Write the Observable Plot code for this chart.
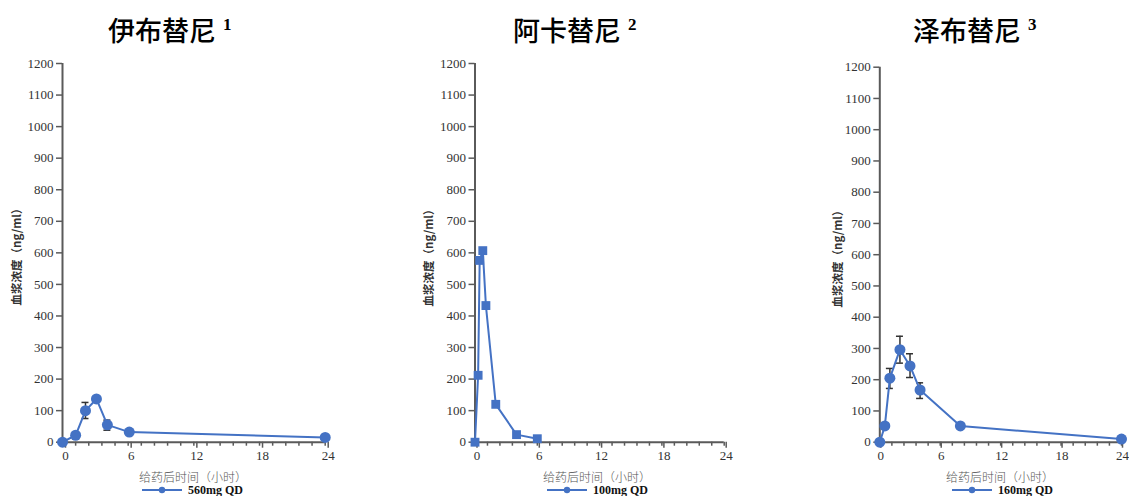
<!DOCTYPE html>
<html>
<head>
<meta charset="utf-8">
<script src="https://cdn.jsdelivr.net/npm/d3@7"></script>
<script src="https://cdn.jsdelivr.net/npm/@observablehq/plot@0.6"></script>
<style>
  html, body { margin: 0; padding: 0; background: #fff; }
  #root { position: relative; width: 1129px; height: 496px; overflow: hidden; background: #fff; }
  #root svg text { font-family: "Liberation Serif", serif; }
  .title { position: absolute; top: 14px; font-family: "Noto Sans CJK SC", sans-serif; font-weight: 500; font-size: 27px; line-height: 32px; color: #000; white-space: nowrap; }
  .title sup { font-family: "Liberation Serif", serif; font-weight: 700; font-size: 17px; vertical-align: 0; position: relative; top: -11px; margin-left: 7px; }
  .xlabel { position: absolute; top: 470px; transform: translateX(-50%); font-family: "Noto Sans CJK SC", sans-serif; font-weight: 300; font-size: 12px; line-height: 13px; color: #555; white-space: nowrap; }
  .ylabel { position: absolute; transform: translate(-50%, -50%) rotate(-90deg); font-family: "Noto Sans CJK SC", sans-serif; font-weight: 700; font-size: 11.5px; line-height: 13px; color: #333; white-space: nowrap; }
  .legend { position: absolute; top: 484px; height: 12px; display: flex; align-items: center; gap: 6px; font-family: "Liberation Serif", serif; font-weight: 700; font-size: 12px; line-height: 12px; color: #111; white-space: nowrap; }
  .plot { position: absolute; top: 0; }
</style>
</head>
<body>
<div id="root"></div>
<script>
// ---------- data ----------
const yTicks = [0, 100, 200, 300, 400, 500, 600, 700, 800, 900, 1000, 1100, 1200];
const xMajorTicks = [0, 6, 12, 18, 24];

const titles = ["伊布替尼", "阿卡替尼", "泽布替尼"];
const titleRefs = ["1", "2", "3"];
const doses = ["560mg QD", "100mg QD", "160mg QD"];
const xAxisLabel = "给药后时间（小时）";
const yAxisLabel = "血浆浓度（ng/ml）";

// Ibrutinib
const ibrTime = [0, 1.2, 2.1, 3.1, 4.1, 6.1, 24];
const ibrConc = [0, 22, 100, 137, 55, 32, 15];
const ibrErrTime = [2.1, 4.1];
const ibrErrLow = [75, 38];
const ibrErrHigh = [126, 70];

// Acalabrutinib
const acaTime = [0, 0.3, 0.45, 0.75, 1.05, 2, 4, 6];
const acaConc = [0, 212, 576, 607, 433, 120, 24, 11];
const acaErrTime = [];
const acaErrLow = [];
const acaErrHigh = [];

// Zanubrutinib
const zanTime = [0, 0.5, 1, 2, 3, 4, 8, 24];
const zanConc = [0, 52, 205, 296, 244, 167, 52, 10];
const zanErrTime = [1, 2, 3, 4];
const zanErrLow = [172, 253, 207, 140];
const zanErrHigh = [236, 339, 283, 190];

// ---------- styles / layout ----------
const blue = "#4472C4";
const axisColor = "#5a5a5a";
const tickFont = "Liberation Serif, serif";
const xMinorTicks = d3.range(0, 21).map(i => +(i * 1.2).toFixed(2));

const layout = [
  {left: 0,   width: 350, ml: 62,    mr: 25.3, mt: 63,   xdx: 3, titleLeft: 108, xLabel: 193,  yLabelX: 16,  yLabelY: 254, legendLeft: 142, symbol: "circle"},
  {left: 380, width: 360, ml: 94.5,  mr: 16.3, mt: 63,   xdx: 2, titleLeft: 513, xLabel: 597,  yLabelX: 428, yLabelY: 255, legendLeft: 547, symbol: "square"},
  {left: 760, width: 369, ml: 119.3, mr: 8,    mt: 66.7, xdx: 1, titleLeft: 913, xLabel: 1000, yLabelX: 837, yLabelY: 256, legendLeft: 952, symbol: "circle"}
];

const series = [
  {time: ibrTime, conc: ibrConc, errTime: ibrErrTime, errLow: ibrErrLow, errHigh: ibrErrHigh},
  {time: acaTime, conc: acaConc, errTime: acaErrTime, errLow: acaErrLow, errHigh: acaErrHigh},
  {time: zanTime, conc: zanConc, errTime: zanErrTime, errLow: zanErrLow, errHigh: zanErrHigh}
];

const root = document.getElementById("root");

series.forEach((s, k) => {
  const L = layout[k];
  const data = s.time.map((t, i) => ({t, c: s.conc[i]}));
  const errs = s.errTime.map((t, i) => ({t, lo: s.errLow[i], hi: s.errHigh[i]}));

  const chart = Plot.plot({
    width: L.width,
    height: 496,
    marginLeft: L.ml,
    marginRight: L.mr,
    marginTop: L.mt,
    marginBottom: 54.3,
    x: {domain: [0, 24]},
    y: {domain: [0, 1200]},
    style: {fontFamily: tickFont, fontSize: "13px", color: "#333", background: "transparent", overflow: "visible"},
    marks: [
      Plot.axisY({ticks: yTicks, tickSize: 6, tickPadding: 3, tickFormat: d => String(d), label: null, stroke: axisColor, strokeWidth: 1.5, fontFamily: tickFont, fontSize: 13}),
      Plot.axisX({ticks: xMinorTicks, tickSize: 4, tickFormat: () => "", label: null, stroke: axisColor, strokeWidth: 1.5}),
      Plot.axisX({ticks: xMajorTicks, tickSize: 6, tickPadding: 3, tickFormat: d => String(d), label: null, dx: L.xdx, stroke: axisColor, strokeWidth: 1.5, fontFamily: tickFont, fontSize: 13}),
      Plot.ruleX([0], {stroke: axisColor, strokeWidth: 2}),
      Plot.ruleY([0], {stroke: axisColor, strokeWidth: 2}),
      Plot.ruleX(errs, {x: "t", y1: "lo", y2: "hi", stroke: "#333", strokeWidth: 1.5}),
      Plot.ruleY(errs, {x1: "t", x2: "t", y: "hi", insetLeft: -3.5, insetRight: -3.5, stroke: "#333", strokeWidth: 1.5}),
      Plot.ruleY(errs, {x1: "t", x2: "t", y: "lo", insetLeft: -3.5, insetRight: -3.5, stroke: "#333", strokeWidth: 1.5}),
      Plot.line(data, {x: "t", y: "c", stroke: blue, strokeWidth: 2}),
      Plot.dot(data, {x: "t", y: "c", r: L.symbol === "square" ? 5 : 5.5, fill: blue, stroke: "none", symbol: L.symbol})
    ]
  });
  chart.classList.add("plot");
  chart.style.left = L.left + "px";
  root.appendChild(chart);

  const title = document.createElement("div");
  title.className = "title";
  title.style.left = L.titleLeft + "px";
  title.innerHTML = `${titles[k]}<sup>${titleRefs[k]}</sup>`;
  root.appendChild(title);

  const xl = document.createElement("div");
  xl.className = "xlabel";
  xl.style.left = L.xLabel + "px";
  xl.textContent = xAxisLabel;
  root.appendChild(xl);

  const yl = document.createElement("div");
  yl.className = "ylabel";
  yl.style.left = L.yLabelX + "px";
  yl.style.top = L.yLabelY + "px";
  yl.textContent = yAxisLabel;
  root.appendChild(yl);

  const lg = document.createElement("div");
  lg.className = "legend";
  lg.style.left = L.legendLeft + "px";
  lg.innerHTML = `<svg width="40" height="10"><line x1="0" y1="5" x2="40" y2="5" stroke="${blue}" stroke-width="2"/><circle cx="20" cy="5" r="3.2" fill="${blue}"/></svg><span>${doses[k]}</span>`;
  root.appendChild(lg);
});
</script>
</body>
</html>
